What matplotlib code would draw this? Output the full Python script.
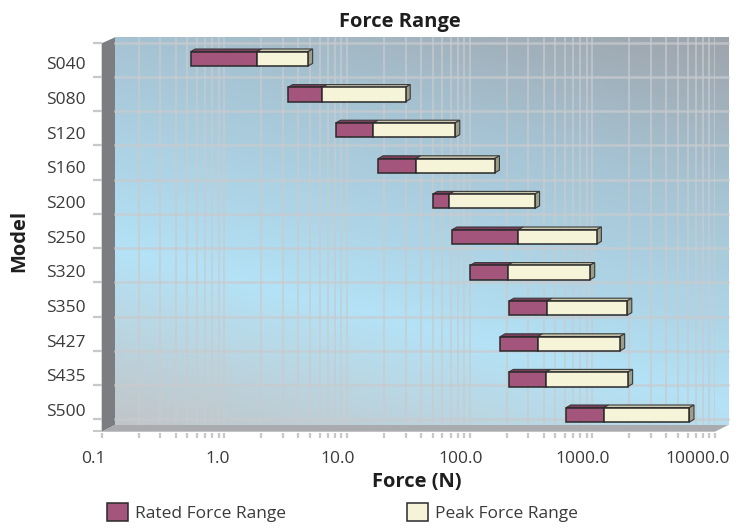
import numpy as np
import matplotlib
matplotlib.use("Agg")
import matplotlib.pyplot as plt
import matplotlib.transforms as mtransforms
from matplotlib.patches import Polygon
from matplotlib.ticker import FixedLocator, LogLocator, NullFormatter

plt.rcParams['font.family'] = ['Open Sans', 'DejaVu Sans']

# ---- data -------------------------------------------------------------
models = ["S040", "S080", "S120", "S160", "S200", "S250",
          "S320", "S350", "S427", "S435", "S500"]
rated_min = [0.53, 3.3, 8.1, 18.0, 50.0, 72.0, 101.0, 210.0, 178.0, 208.0, 610.0]
rated_max = [1.84, 6.3, 16.4, 36.5, 68.0, 250.0, 204.0, 430.0, 359.0, 419.0, 1240.0]
peak_max = [4.8, 30.0, 76.0, 160.0, 340.0, 1085.0, 957.0, 1920.0, 1680.0, 1950.0, 6170.0]
x_ticks = [0.1, 1.0, 10.0, 100.0, 1000.0, 10000.0]
x_tick_labels = ["0.1", "1.0", "10.0", "100.0", "1000.0", "10000.0"]

# ---- layout (pixels, y measured from the top) -------------------------
W, H = 739, 529
AX_L, AX_R = 101.7, 715.0            # front plane: 0.1 ... 10000
WALL_L, WALL_R = 115.0, 728.3        # back wall
WALL_T, WALL_B = 37.3, 425.0
FRONT_B = 431.7
GRID_T, GRID_B = 42.7, 419.3         # first / last category boundary on the wall
BARS_T, BARS_B = 41.1, 432.7         # category band used by the bars
LAB_T, LAB_B = 46.0, 427.3           # category band used by the labels
DEPTH = (4.7, 2.7)                   # bar extrusion (px right, px up)

RATED = '#a3557c'
PEAK = '#f5f3d8'
RATED_TOP = '#7e3e5f'
PEAK_TOP = '#c9c8ae'
END_FACE = '#9c9e8a'
EDGE = '#2a2a2a'
TEXT = '#3a3a3a'
TICK_GRAY = '#c6c8ca'
GRID_COL = '#c8cbce'
FS = 12.5
FS_TITLE = 14.5

fig = plt.figure(figsize=(W / 100, H / 100), dpi=100)


def px_axes(x0, y0, x1, y1, **kw):
    return fig.add_axes([x0 / W, 1 - y1 / H, (x1 - x0) / W, (y1 - y0) / H], **kw)


def strip(ax):
    for s in ax.spines.values():
        s.set_visible(False)
    ax.patch.set_visible(False)


n = len(models)
ypos = np.arange(n)

# ---- 3D box: back wall gradient, left wall, floor ----------------------
ax_bg = fig.add_axes([0, 0, 1, 1], zorder=0)
ax_bg.set_xlim(0, W)
ax_bg.set_ylim(H, 0)
ax_bg.axis('off')

gu = np.linspace(0, 1, 400)
gv = np.linspace(0, 1, 300)
U, V = np.meshgrid(gu, gv)
d = V - (0.55 + 0.40 * U)
stop_d = [-0.95, -0.55, -0.2, 0.0, 0.2, 0.45]
stop_c = np.array([(158, 164, 171), (166, 195, 211), (174, 214, 232),
                   (180, 226, 246), (186, 214, 226), (193, 197, 200)]) / 255.0
grad = np.dstack([np.interp(d, stop_d, stop_c[:, k]) for k in range(3)])
ax_bg.imshow(grad, extent=(WALL_L, WALL_R, WALL_B, WALL_T), origin='upper',
             aspect='auto', interpolation='bilinear', zorder=0)
ax_bg.add_patch(Polygon([(AX_L, GRID_T + 0.6), (WALL_L, WALL_T), (WALL_L, WALL_B),
                         (AX_L, FRONT_B)], closed=True, facecolor='#7c7d81',
                        edgecolor='none', zorder=1))
ax_bg.add_patch(Polygon([(AX_L, FRONT_B), (WALL_L, WALL_B), (WALL_R, WALL_B),
                         (AX_R, FRONT_B)], closed=True, facecolor='#a9abae',
                        edgecolor='none', zorder=1))
ax_bg.plot([93, AX_L], [FRONT_B - 0.8, FRONT_B - 0.8], color=TICK_GRAY, lw=1.5,
           solid_capstyle='butt', zorder=1)

# ---- wall gridlines ---------------------------------------------------
ax_grid = px_axes(AX_L, WALL_T, AX_R, WALL_B, zorder=1)
strip(ax_grid)
unit = (GRID_B - GRID_T) / n
ax_grid.set_ylim(n - 0.5 + (WALL_B - GRID_B) / unit, -0.5 - (GRID_T - WALL_T) / unit)
ax_grid.set_xscale('log')
ax_grid.set_xlim(x_ticks[0], x_ticks[-1])
boundaries = np.arange(n + 1) - 0.5
ax_grid.set_yticks(boundaries)
ax_grid.set_yticklabels([])
ax_grid.tick_params(axis='y', length=8.7 * 0.72, width=1.6, color=TICK_GRAY, direction='out')
ax_grid.set_xticks([])
ax_grid.minorticks_off()
ax_grid.set_xticks([], minor=True)

gx0 = (WALL_L - AX_L) / (AX_R - AX_L)
gx1 = (WALL_R - AX_L) / (AX_R - AX_L)
for b in boundaries:
    ax_grid.axhline(b, xmin=gx0, xmax=gx1, color=GRID_COL, alpha=0.75,
                    lw=1.8, clip_on=False)
grid_vals = [m * 10.0 ** e for e in range(-1, 4) for m in range(1, 10)] + [x_ticks[-1]]
xl = ax_grid.transData.transform((x_ticks[0], 0))[0]
for gvx in grid_vals:
    xp = ax_grid.transData.transform((gvx, 0))[0]
    if xp - xl < (WALL_L - AX_L):
        continue
    ax_grid.axvline(gvx, color=GRID_COL, alpha=0.7, lw=1.4)

# ---- bars -------------------------------------------------------------
ax = px_axes(AX_L, BARS_T, AX_R, BARS_B, zorder=2)
strip(ax)
ax.set_xscale('log')
ax.set_xlim(x_ticks[0], x_ticks[-1])
ax.set_ylim(n - 0.5, -0.5)
ax.set_yticks([])

bar_h = 14.4 / ((BARS_B - BARS_T) / n)
rmin = np.array(rated_min)
rmax = np.array(rated_max)
pmax = np.array(peak_max)
rated_bars = ax.barh(ypos, rmax - rmin, left=rmin, height=bar_h, color=RATED,
                     edgecolor=EDGE, linewidth=1.1, label="Rated Force Range", zorder=3)
peak_bars = ax.barh(ypos, pmax - rmax, left=rmax, height=bar_h, color=PEAK,
                    edgecolor=EDGE, linewidth=1.1, label="Peak Force Range", zorder=3)

# extrusion faces, built from each bar's display-space corners
dx, dy = DEPTH
ident = mtransforms.IdentityTransform()
for bars, top_col, with_end in ((rated_bars, RATED_TOP, False), (peak_bars, PEAK_TOP, True)):
    for rect in bars:
        x0, yb = rect.get_x(), rect.get_y()
        x1, yt = x0 + rect.get_width(), yb + rect.get_height()
        (px0, py_a), (px1, py_b) = ax.transData.transform([(x0, yb), (x1, yt)])
        # inverted y axis: the smaller data y is the upper edge on screen
        top_y = max(py_a, py_b)
        bot_y = min(py_a, py_b)
        ax.add_patch(Polygon([(px0, top_y), (px1, top_y), (px1 + dx, top_y + dy),
                              (px0 + dx, top_y + dy)], closed=True, transform=ident,
                             facecolor=top_col, edgecolor='#3a3a3a', lw=0.8,
                             zorder=2, clip_on=False))
        if with_end:
            ax.add_patch(Polygon([(px1, top_y), (px1 + dx, top_y + dy),
                                  (px1 + dx, bot_y + dy), (px1, bot_y)], closed=True,
                                 transform=ident, facecolor=END_FACE,
                                 edgecolor='#3a3a3a', lw=0.8, zorder=2, clip_on=False))

# x ticks under the floor
ax.xaxis.set_major_locator(FixedLocator(x_ticks))
ax.xaxis.set_minor_locator(LogLocator(base=10, subs=np.arange(2, 10)))
ax.xaxis.set_major_formatter(NullFormatter())
ax.xaxis.set_minor_formatter(NullFormatter())
ax.tick_params(axis='x', which='both', length=5 * 0.72, width=1.6, color=TICK_GRAY,
               direction='out')

label_shift_px = [-8, -7, -9, -9.5, -10, -17]
blend = mtransforms.blended_transform_factory(ax.transData, fig.transFigure)
for v, txt, sh in zip(x_ticks, x_tick_labels, label_shift_px):
    ax.text(v, 1 - 463.3 / H, txt, ha='center', va='baseline', fontsize=FS, color=TEXT,
            transform=blend + mtransforms.ScaledTranslation(sh / 100, 0, fig.dpi_scale_trans),
            clip_on=False)

# ---- category labels ----------------------------------------------------
ax_lab = px_axes(AX_L, LAB_T, AX_R, LAB_B, zorder=1)
strip(ax_lab)
ax_lab.set_ylim(n - 0.5, -0.5)
ax_lab.set_yticks(ypos)
ax_lab.set_yticklabels(models, fontsize=FS, color=TEXT)
ax_lab.tick_params(axis='y', length=0, pad=(AX_L - 86) * 0.72)
ax_lab.set_xticks([])

# ---- titles -------------------------------------------------------------
fig.text(399.5 / W, 1 - 26.7 / H, "Force Range", ha='center', va='baseline',
         fontsize=FS_TITLE, fontweight='bold', color='#1e1e1e')
fig.text(417 / W, 1 - 486.7 / H, "Force (N)", ha='center', va='baseline',
         fontsize=FS_TITLE, fontweight='bold', color='#1e1e1e')
fig.text(19 / W, 1 - 241 / H, "Model", rotation=90, ha='center', va='center',
         fontsize=FS_TITLE, fontweight='bold', color='#1e1e1e')

# ---- legend -------------------------------------------------------------
em = FS / 0.72
for handle, label, lx in ((rated_bars, "Rated Force Range", 106.7),
                          (peak_bars, "Peak Force Range", 406.7)):
    fig.legend([handle], [label], loc='center left',
               bbox_to_anchor=(lx / W, 1 - 512.2 / H), frameon=False,
               borderpad=0, borderaxespad=0, handlelength=21 / em,
               handleheight=21 / em, handletextpad=7 / em, fontsize=FS,
               labelcolor=TEXT)

fig.savefig("out.png", dpi=100, facecolor='white')
